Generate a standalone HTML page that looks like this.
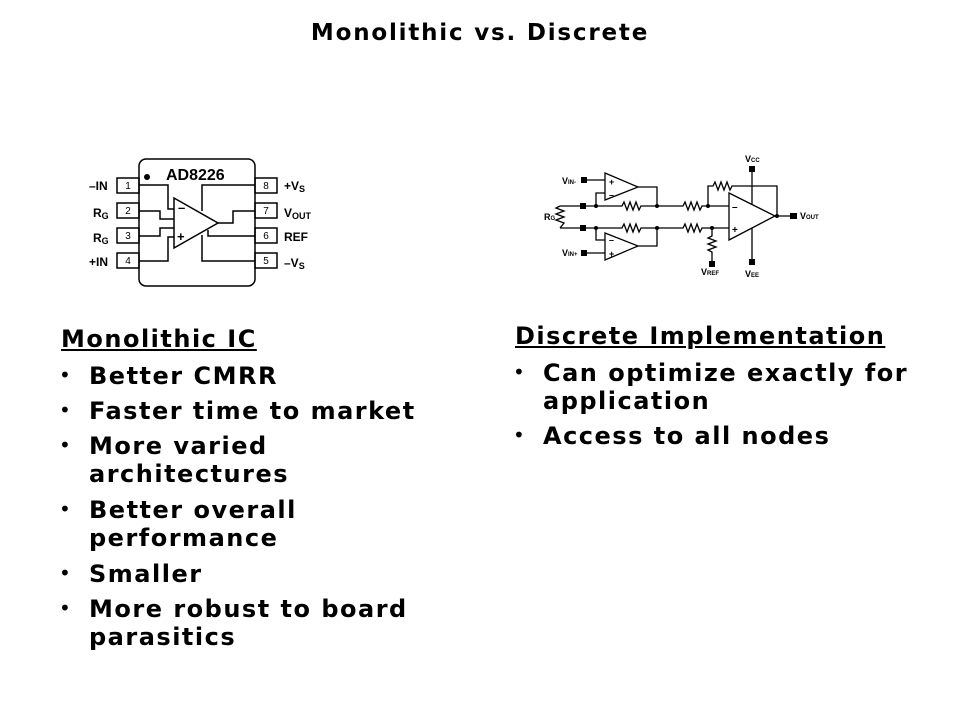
<!DOCTYPE html>
<html><head><style>
body{margin:0;width:960px;height:720px;background:#fff;position:relative;font-family:"DejaVu Sans",Verdana,sans-serif;font-weight:bold;color:#000;overflow:hidden}
.t{position:absolute;white-space:nowrap}
.h{font-size:24px;letter-spacing:1.5px;text-decoration:underline}
.b{font-size:24px;line-height:28px;letter-spacing:1.5px}
.bl{position:absolute;font-size:20px;font-weight:normal}
</style></head><body>
<div class="t" style="left:0;width:960px;text-align:center;top:20px;font-size:23px;letter-spacing:1.8px">Monolithic vs. Discrete</div>

<svg style="position:absolute;left:0;top:0" width="960" height="300" font-family="Liberation Sans,Arial,sans-serif" font-weight="bold" font-size="12">
<g fill="none" stroke="#000" stroke-width="1.5">
<rect x="139" y="159" width="116" height="127" rx="7"/>
<rect x="117" y="178" width="22" height="15"/><rect x="117" y="203" width="22" height="15"/>
<rect x="117" y="228" width="22" height="15"/><rect x="117" y="253" width="22" height="15"/>
<rect x="255" y="178" width="22" height="15"/><rect x="255" y="203" width="22" height="15"/>
<rect x="255" y="228" width="22" height="15"/><rect x="255" y="253" width="22" height="15"/>
<polygon points="174,198 218,223 174,248"/>
<polyline points="139,185 168,185 168,209 174,209"/>
<polyline points="139,211 160,211 160,219 174,219"/>
<polyline points="139,236 160,236 160,228 174,228"/>
<polyline points="139,261 168,261 168,237 174,237"/>
<polyline points="255,185 202,185 202,211"/>
<polyline points="255,261 202,261 202,235"/>
<polyline points="218,223 233,223 233,211 255,211"/>
<polyline points="208,230 208,236 255,236"/>
</g>
<circle cx="147" cy="177" r="3"/>
<text x="166" y="180" font-size="16">AD8226</text>
<text x="178" y="212" font-size="13">–</text><text x="177" y="241" font-size="13">+</text>
<g font-size="10" font-weight="normal" text-anchor="middle"><text x="128" y="189">1</text><text x="128" y="214">2</text><text x="128" y="239">3</text><text x="128" y="264">4</text>
<text x="266" y="189">8</text><text x="266" y="214">7</text><text x="266" y="239">6</text><text x="266" y="264">5</text></g>
<text x="89" y="190">–IN</text><text x="93" y="217">R<tspan font-size="9" dy="2">G</tspan></text>
<text x="93" y="242">R<tspan font-size="9" dy="2">G</tspan></text><text x="89" y="266">+IN</text>
<text x="284" y="190">+V<tspan font-size="9" dy="2">S</tspan></text><text x="284" y="217">V<tspan font-size="9" dy="2">OUT</tspan></text>
<text x="284" y="241">REF</text><text x="284" y="267">–V<tspan font-size="9" dy="2">S</tspan></text>

<g fill="none" stroke="#000" stroke-width="1.3">
<polygon points="605,173 638,187 605,200"/>
<polygon points="605,233 638,246 605,260"/>
<polygon points="729,193 775,216 729,240"/>
<line x1="585" y1="180" x2="605" y2="180"/>
<line x1="585" y1="253" x2="605" y2="253"/>
<polyline points="596,206 596,193 605,193"/>
<polyline points="596,228 596,240 605,240"/>
<polyline points="638,187 657,187 657,206"/>
<polyline points="638,246 657,246 657,228"/>
<polyline points="583,206 622,206 624,202 627,210 630,202 633,210 636,202 639,210 641,206 683,206 685,202 688,210 691,202 694,210 697,202 700,210 702,206 729,206"/>
<polyline points="583,228 622,228 624,224 627,232 630,224 633,232 636,224 639,232 641,228 683,228 685,224 688,232 691,224 694,232 697,224 700,232 702,228 729,228"/>
<polyline points="708,206 708,186 713,186 715,182 718,190 721,182 724,190 727,182 730,190 732,186 777,186 777,216"/>
<line x1="775" y1="216" x2="793" y2="216"/>
<polyline points="712,228 712,236 708,238 716,241 708,244 716,247 708,250 712,252 712,264"/>
<polyline points="560,206 556,208 564,211 556,214 564,217 556,220 564,223 560,228"/>
<line x1="560" y1="206" x2="583" y2="206"/><line x1="560" y1="228" x2="583" y2="228"/>
<line x1="752" y1="169" x2="752" y2="204"/><line x1="752" y1="228" x2="752" y2="262"/>
</g>
<g fill="#000">
<rect x="581" y="177" width="6" height="6"/><rect x="581" y="250" width="6" height="6"/>
<rect x="580" y="203" width="6" height="6"/><rect x="580" y="225" width="6" height="6"/>
<rect x="790" y="213" width="7" height="6"/><rect x="749" y="166" width="6" height="6"/>
<rect x="749" y="259" width="6" height="6"/><rect x="709" y="261" width="6" height="6"/>
<circle cx="596" cy="206" r="2"/><circle cx="596" cy="228" r="2"/><circle cx="657" cy="206" r="2"/><circle cx="657" cy="228" r="2"/>
<circle cx="708" cy="206" r="2"/><circle cx="712" cy="228" r="2"/><circle cx="777" cy="216" r="2"/>
</g>
<g font-size="9">
<text x="562" y="184">V<tspan font-size="6">IN-</tspan></text><text x="562" y="256">V<tspan font-size="6">IN+</tspan></text>
<text x="544" y="220">R<tspan font-size="6">G</tspan></text>
<text x="800" y="219">V<tspan font-size="6">OUT</tspan></text>
<text x="745" y="162">V<tspan font-size="6">CC</tspan></text><text x="745" y="277">V<tspan font-size="6">EE</tspan></text>
<text x="701" y="275">V<tspan font-size="6">REF</tspan></text>
<text x="609" y="185" font-size="9">+</text><text x="609" y="198" font-size="9">–</text>
<text x="609" y="243" font-size="9">–</text><text x="609" y="257" font-size="9">+</text>
<text x="732" y="210" font-size="10">–</text><text x="732" y="233" font-size="10">+</text>
</g>
</svg>

<div class="t h" style="left:61px;top:325px">Monolithic IC</div>
<div class="t b" style="left:89px;top:362px">Better CMRR</div>
<div class="t b" style="left:89px;top:397px">Faster time to market</div>
<div class="t b" style="left:89px;top:432px">More varied<br>architectures</div>
<div class="t b" style="left:89px;top:496px">Better overall<br>performance</div>
<div class="t b" style="left:89px;top:560px">Smaller</div>
<div class="t b" style="left:89px;top:595px">More robust to board<br>parasitics</div>
<div class="bl" style="left:59px;top:363px">•</div><div class="bl" style="left:59px;top:398px">•</div>
<div class="bl" style="left:59px;top:433px">•</div><div class="bl" style="left:59px;top:497px">•</div>
<div class="bl" style="left:59px;top:561px">•</div><div class="bl" style="left:59px;top:596px">•</div>

<div class="t h" style="left:515px;top:322px">Discrete Implementation</div>
<div class="t b" style="left:543px;top:359px">Can optimize exactly for<br>application</div>
<div class="t b" style="left:543px;top:422px">Access to all nodes</div>
<div class="bl" style="left:513px;top:360px">•</div><div class="bl" style="left:513px;top:423px">•</div>
</body></html>
